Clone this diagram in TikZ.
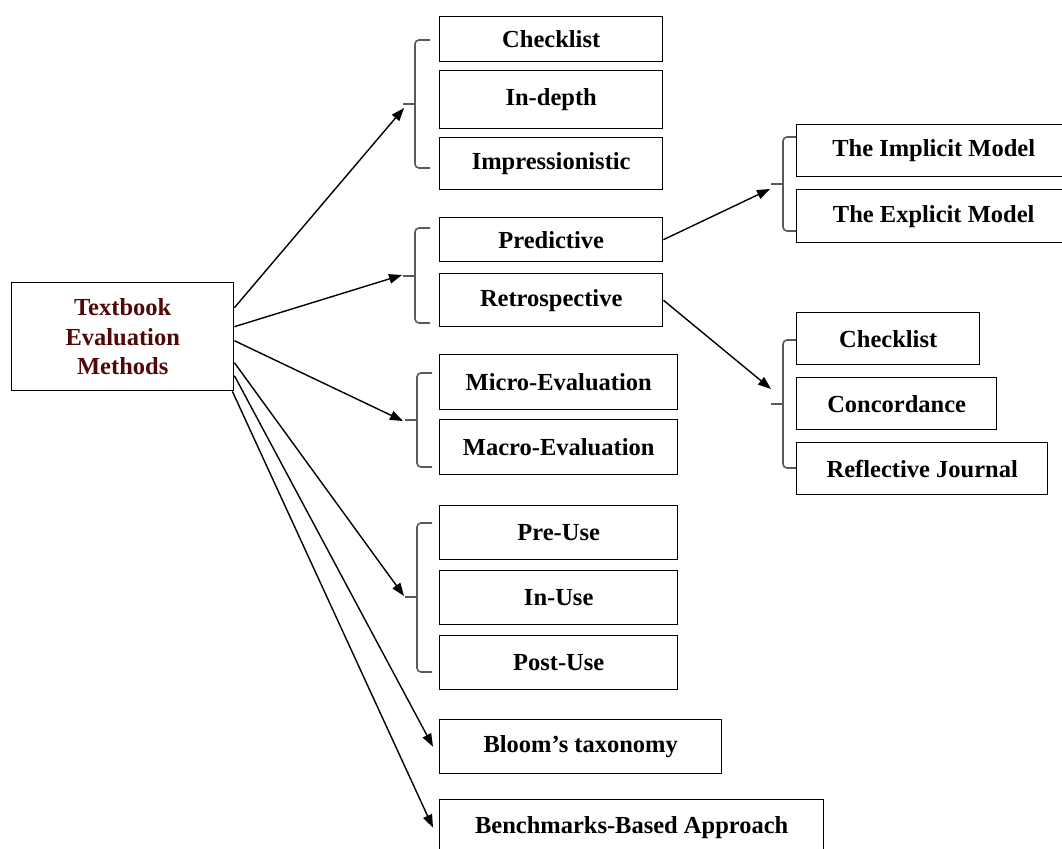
\documentclass[tikz,border=0pt]{standalone}
\usepackage{fontspec}
\setmainfont{Liberation Serif}
\usetikzlibrary{arrows.meta}
\definecolor{maintext}{RGB}{80,8,8}
\definecolor{bracegray}{RGB}{90,90,90}
\begin{document}
\begin{tikzpicture}[x=1pt,y=-1pt,
  box/.style={draw=black,line width=1.4pt,anchor=north west,inner sep=0pt,
    font=\fontsize{24.5}{29.5}\selectfont\bfseries,align=center},
  brace/.style={draw=bracegray,line width=1.6pt,rounded corners=4pt},
  tick/.style={draw=bracegray,line width=1.6pt},
  conn/.style={draw=black,line width=1.4pt,-{Triangle[length=13pt,width=9.5pt]}}]
\useasboundingbox (0,0) rectangle (1062,848);

% main node
\node[box,minimum width=222pt,minimum height=108pt,text=maintext] (main) at (11,282) {Textbook\\Evaluation\\Methods};

% group 1
\node[box,minimum width=223pt,minimum height=45pt] (chk) at (439,16) {Checklist};
\node[box,minimum width=223pt,minimum height=58pt] (indepth) at (439,70) {In-depth};
\node[box,minimum width=223pt,minimum height=52pt] (impr) at (439,137) {Impressionistic};
% group 2
\node[box,minimum width=223pt,minimum height=44pt] (pred) at (439,217) {Predictive};
\node[box,minimum width=223pt,minimum height=53pt] (retro) at (439,273) {Retrospective};
% group 3
\node[box,minimum width=238pt,minimum height=55pt] (micro) at (439,354) {Micro-Evaluation};
\node[box,minimum width=238pt,minimum height=55pt] (macro) at (439,419) {Macro-Evaluation};
% group 4
\node[box,minimum width=238pt,minimum height=54pt] (pre) at (439,505) {Pre-Use};
\node[box,minimum width=238pt,minimum height=54pt] (inuse) at (439,570) {In-Use};
\node[box,minimum width=238pt,minimum height=54pt] (post) at (439,635) {Post-Use};
% singles
\node[box,minimum width=282pt,minimum height=54pt] (bloom) at (439,719) {Bloom’s taxonomy};
\node[box,minimum width=384pt,minimum height=56pt] (bench) at (439,799) {Benchmarks-Based Approach};
% right groups
\node[box,minimum width=274pt,minimum height=52pt] (impl) at (796,124) {The Implicit Model};
\node[box,minimum width=274pt,minimum height=53pt] (expl) at (796,189) {The Explicit Model};
\node[box,minimum width=183pt,minimum height=52pt] (chk2) at (796,312) {Checklist};
\node[box,minimum width=200pt,minimum height=52pt] (conc) at (796,377) {Concordance};
\node[box,minimum width=251pt,minimum height=52pt] (refl) at (796,442) {Reflective Journal};

% braces
\draw[brace] (430,40) -- (415,40) -- (415,168) -- (430,168);
\coordinate (b1) at (403,104);
\draw[tick] (415,104) -- (b1);
\draw[brace] (430,228) -- (415,228) -- (415,323) -- (430,323);
\coordinate (b2) at (403,276);
\draw[tick] (415,276) -- (b2);
\draw[brace] (432,373) -- (417,373) -- (417,467) -- (432,467);
\coordinate (b3) at (405,420);
\draw[tick] (417,420) -- (b3);
\draw[brace] (432,523) -- (417,523) -- (417,672) -- (432,672);
\coordinate (b4) at (405,597);
\draw[tick] (417,597) -- (b4);
\draw[brace] (796,137) -- (783,137) -- (783,231) -- (796,231);
\coordinate (b5) at (771,184);
\draw[tick] (783,184) -- (b5);
\draw[brace] (796,340) -- (783,340) -- (783,468) -- (796,468);
\coordinate (b6) at (771,404);
\draw[tick] (783,404) -- (b6);

% arrow end points
\coordinate (t1) at (404,108);
\coordinate (t2) at (402,275);
\coordinate (t3) at (403,421);
\coordinate (t4) at (404,596);
\coordinate (t5) at (770,189);
\coordinate (t6) at (771,389);

% connectors
\draw[conn] ([yshift=29pt]main.east) -- (t1);
\draw[conn] ([yshift=10pt]main.east) -- (t2);
\draw[conn] ([yshift=-4pt]main.east) -- (t3);
\draw[conn] ([yshift=-26pt]main.east) -- (t4);
\draw[conn] ([yshift=-39pt]main.east) -- ([xshift=-6pt]bloom.west);
\draw[conn] ([xshift=-2pt]main.south east) -- ([xshift=-6pt]bench.west);
\draw[conn] (pred.east) -- (t5);
\draw[conn] (retro.east) -- (t6);
\end{tikzpicture}
\end{document}
